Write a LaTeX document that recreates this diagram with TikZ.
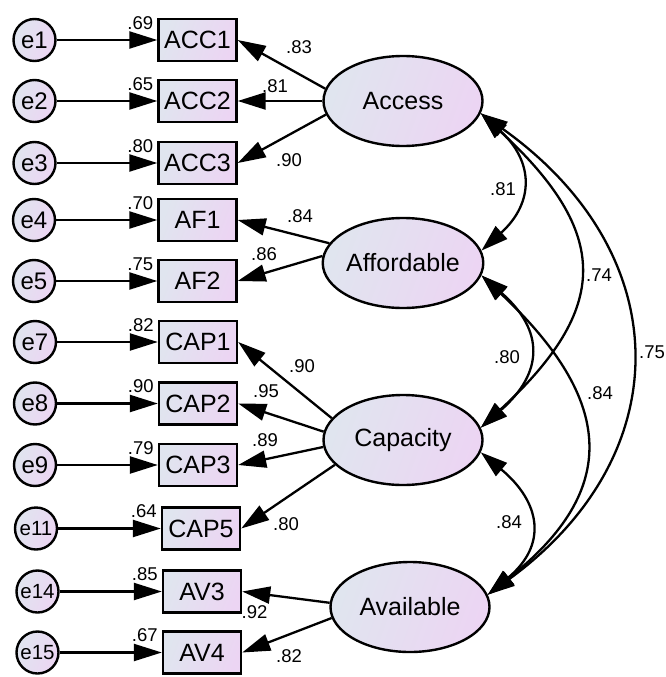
\documentclass[tikz,border=0pt]{standalone}
\usepackage{fontspec}
\setmainfont{Liberation Sans}
\usetikzlibrary{arrows.meta,shapes.geometric}

\definecolor{fillL}{RGB}{224,229,239}
\definecolor{fillR}{RGB}{236,213,243}

\begin{document}
\begin{tikzpicture}[x=1pt,y=-1pt,
  every node/.style={inner sep=0pt},
  grad/.style={left color=fillL, right color=fillR, shading angle=70},
  obs/.style={draw, grad, line width=2.4pt, minimum width=78pt, minimum height=42pt,
    font=\fontsize{25}{28}\selectfont},
  err/.style={circle, draw, grad, line width=2.4pt, minimum size=42pt,
    font=\fontsize{24}{26}\selectfont},
  errs/.style={err, font=\fontsize{20.5}{24}\selectfont},
  lat/.style={ellipse, draw, grad, line width=2.4pt, minimum width=159pt, minimum height=90pt,
    font=\fontsize{25}{28}\selectfont},
  reg/.style={line width=2.3pt, -{Triangle[length=28pt,width=17pt]}},
  cov/.style={line width=2.3pt, {Triangle[length=27pt,width=17pt]}-{Triangle[length=27pt,width=17pt]}},
  coef/.style={font=\fontsize{18.5}{20}\selectfont}
]
\useasboundingbox (0,0) rectangle (665,677);

% latent factors
\node[lat] (Access) at (403,101) {Access};
\node[lat] (Afford) at (403,263) {Affordable};
\node[lat] (Capac)  at (403,440) {Capacity};
\node[lat] (Avail)  at (410,607) {Available};

% indicators
\node[obs] (acc1) at (197.5,40)    {ACC1};
\node[obs] (acc2) at (197.5,101)   {ACC2};
\node[obs] (acc3) at (197.5,163)   {ACC3};
\node[obs] (af1)  at (197.5,220)   {AF1};
\node[obs] (af2)  at (197.5,281)   {AF2};
\node[obs] (cap1) at (198,342)     {CAP1};
\node[obs] (cap2) at (198,403.5)   {CAP2};
\node[obs] (cap3) at (198,465)     {CAP3};
\node[obs] (cap5) at (201,528.5)   {CAP5};
\node[obs] (av3)  at (202,591.5)   {AV3};
\node[obs] (av4)  at (202,652.5)   {AV4};

% error terms
\node[err]  (e1)  at (34.5,40)    {e1};
\node[err]  (e2)  at (34.5,101)   {e2};
\node[err]  (e3)  at (34.5,163)   {e3};
\node[err]  (e4)  at (34,220)     {e4};
\node[err]  (e5)  at (34,281)     {e5};
\node[err]  (e7)  at (35,342)     {e7};
\node[err]  (e8)  at (35,403.5)   {e8};
\node[err]  (e9)  at (35,465)     {e9};
\node[errs] (e11) at (36,528.5)   {e11};
\node[errs] (e14) at (37.5,591.5) {e14};
\node[errs] (e15) at (37.5,652.5) {e15};

% error paths with squared multiple correlations
\foreach \e/\o/\r in {e1/acc1/.69, e2/acc2/.65, e3/acc3/.80, e4/af1/.70, e5/af2/.75,
                      e7/cap1/.82, e8/cap2/.90, e9/cap3/.79, e11/cap5/.64,
                      e14/av3/.85, e15/av4/.67}{
  \draw[reg] (\e) -- (\o.west);
  \node[coef, anchor=east] at ([xshift=-4pt,yshift=17pt]\o.west) {\r};
}

% factor loadings
\draw[reg] (Access.171)   -- (acc1.east);
\draw[reg] (Access.west)  -- (acc2.east);
\draw[reg] (Access.190)   -- (acc3.east);
\draw[reg] (Afford.165.5) -- (af1.east);
\draw[reg] (Afford.175.5) -- (af2.east);
\draw[reg] (Capac.163.5)  -- (cap1.east);
\draw[reg] (Capac.174)    -- (cap2.east);
\draw[reg] (Capac.185.5)  -- (cap3.east);
\draw[reg] (Capac.200.5)  -- (cap5.east);
\draw[reg] (Avail.177)    -- (av3.east);
\draw[reg] (Avail.188)    -- (av4.east);

\node[coef] at (299,47)  {.83};
\node[coef] at (275,86)  {.81};
\node[coef] at (289,160) {.90};
\node[coef] at (300,216) {.84};
\node[coef] at (264,254) {.86};
\node[coef] at (302,366) {.90};
\node[coef] at (266,391) {.95};
\node[coef] at (265,440) {.89};
\node[coef] at (286,524) {.80};
\node[coef] at (254.5,612) {.92};
\node[coef] at (289,656) {.82};

% factor covariances
\draw[cov] (Access.-9) .. controls +(53,48) and +(53,-48) .. (Afford.9);
\draw[cov] (Access.-9) .. controls +(130,120) and +(130,-120) .. (Capac.9);
\draw[cov] (Access.-9) .. controls +(197,140) and +(192,-140) .. (Avail.9);
\draw[cov] (Afford.-9) .. controls +(63,55) and +(63,-55) .. (Capac.9);
\draw[cov] (Afford.-9) .. controls +(133,125) and +(133,-105) .. (Avail.9);
\draw[cov] (Capac.-9)  .. controls +(60,50) and +(60,-50) .. (Avail.9);

\node[coef] at (503,189) {.81};
\node[coef] at (599,275) {.74};
\node[coef] at (652,352) {.75};
\node[coef] at (507,357) {.80};
\node[coef] at (600,393) {.84};
\node[coef] at (509,522) {.84};
\end{tikzpicture}
\end{document}
